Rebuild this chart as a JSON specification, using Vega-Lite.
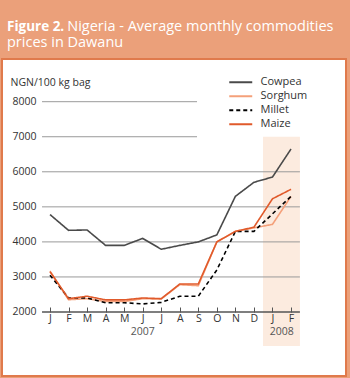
{
  "$schema": "https://vega.github.io/schema/vega-lite/v6.json",
  "autosize": "none",
  "width": 344,
  "height": 317,
  "padding": {"left": 2, "top": 59, "right": 4, "bottom": 2},
  "background": "#EBA07A",
  "view": {"fill": "white", "stroke": "#E07A4C", "strokeWidth": 2},
  "config": {
    "font": "Open Sans",
    "axisX": {"offset": -64, "labelExpr": "substring('JFMAMJJASONDJF', datum.value, datum.value + 1)", "labelOverlap": false, "labelFlush": false, "labelBound": false, "domain": false, "grid": false, "ticks": true, "tickSize": -5, "tickColor": "#555555", "tickWidth": 1, "labelPadding": 6, "labelFontSize": 10.5, "labelColor": "#333333", "labelFont": "Open Sans"},
    "axisY": {"offset": -38, "format": "d", "labelOverlap": false, "labelFlush": false, "labelBound": false, "domain": false, "ticks": false, "grid": false, "labelPadding": 4, "labelFontSize": 10.5, "labelColor": "#333333", "labelFont": "Open Sans", "titleAngle": 0, "titleX": -30, "titleY": 26.5, "titleAlign": "left", "titleBaseline": "alphabetic", "titleFontWeight": "normal", "titleFontSize": 10.5, "titleColor": "#333333", "titleFont": "Open Sans"}
  },
  "title": {
    "text": "Figure 2.",
    "subtitle": ["\u200b\u00a0\u00a0\u00a0\u00a0\u00a0\u00a0\u00a0\u00a0\u00a0\u00a0\u00a0\u00a0\u00a0\u00a0\u00a0\u00a0Nigeria - Average monthly commodities", "prices in Dawanu"],
    "anchor": "start",
    "frame": "group",
    "dx": 5,
    "offset": 8.5,
    "font": "Open Sans",
    "fontSize": 13.5,
    "fontWeight": "bold",
    "color": "white",
    "subtitleFont": "Open Sans",
    "subtitleFontSize": 14.5,
    "subtitleFontWeight": "normal",
    "subtitleColor": "white",
    "subtitlePadding": -13.5,
    "subtitleLineHeight": 15.7,
    "lineHeight": 15.5
  },
  "data": {"values": [
    {"i": 0, "c": "Cowpea", "v": 4780}, {"i": 1, "c": "Cowpea", "v": 4330}, {"i": 2, "c": "Cowpea", "v": 4340}, {"i": 3, "c": "Cowpea", "v": 3900}, {"i": 4, "c": "Cowpea", "v": 3900}, {"i": 5, "c": "Cowpea", "v": 4100}, {"i": 6, "c": "Cowpea", "v": 3790}, {"i": 7, "c": "Cowpea", "v": 3900}, {"i": 8, "c": "Cowpea", "v": 4000}, {"i": 9, "c": "Cowpea", "v": 4200}, {"i": 10, "c": "Cowpea", "v": 5300}, {"i": 11, "c": "Cowpea", "v": 5700}, {"i": 12, "c": "Cowpea", "v": 5850}, {"i": 13, "c": "Cowpea", "v": 6650},
    {"i": 0, "c": "Sorghum", "v": 3170}, {"i": 1, "c": "Sorghum", "v": 2350}, {"i": 2, "c": "Sorghum", "v": 2380}, {"i": 3, "c": "Sorghum", "v": 2300}, {"i": 4, "c": "Sorghum", "v": 2300}, {"i": 5, "c": "Sorghum", "v": 2380}, {"i": 6, "c": "Sorghum", "v": 2370}, {"i": 7, "c": "Sorghum", "v": 2780}, {"i": 8, "c": "Sorghum", "v": 2750}, {"i": 9, "c": "Sorghum", "v": 4000}, {"i": 10, "c": "Sorghum", "v": 4300}, {"i": 11, "c": "Sorghum", "v": 4400}, {"i": 12, "c": "Sorghum", "v": 4500}, {"i": 13, "c": "Sorghum", "v": 5300},
    {"i": 0, "c": "Millet", "v": 3050}, {"i": 1, "c": "Millet", "v": 2400}, {"i": 2, "c": "Millet", "v": 2400}, {"i": 3, "c": "Millet", "v": 2265}, {"i": 4, "c": "Millet", "v": 2265}, {"i": 5, "c": "Millet", "v": 2230}, {"i": 6, "c": "Millet", "v": 2275}, {"i": 7, "c": "Millet", "v": 2450}, {"i": 8, "c": "Millet", "v": 2450}, {"i": 9, "c": "Millet", "v": 3200}, {"i": 10, "c": "Millet", "v": 4300}, {"i": 11, "c": "Millet", "v": 4300}, {"i": 12, "c": "Millet", "v": 4800}, {"i": 13, "c": "Millet", "v": 5300},
    {"i": 0, "c": "Maize", "v": 3150}, {"i": 1, "c": "Maize", "v": 2380}, {"i": 2, "c": "Maize", "v": 2450}, {"i": 3, "c": "Maize", "v": 2345}, {"i": 4, "c": "Maize", "v": 2345}, {"i": 5, "c": "Maize", "v": 2400}, {"i": 6, "c": "Maize", "v": 2380}, {"i": 7, "c": "Maize", "v": 2800}, {"i": 8, "c": "Maize", "v": 2800}, {"i": 9, "c": "Maize", "v": 4000}, {"i": 10, "c": "Maize", "v": 4300}, {"i": 11, "c": "Maize", "v": 4420}, {"i": 12, "c": "Maize", "v": 5230}, {"i": 13, "c": "Maize", "v": 5500}
  ]},
  "layer": [
    {
      "data": {"values": [{}]},
      "mark": {"type": "rect", "color": "#FCEBDF"},
      "encoding": {
        "x": {"datum": 11.49, "type": "quantitative", "scale": {"domain": [-2.589, 15.966], "nice": false, "zero": false}, "axis": {"values": [0,1,2,3,4,5,6,7,8,9,10,11,12,13], "title": null, "zindex": 2}},
        "x2": {"datum": 13.48},
        "y": {"datum": 7000, "type": "quantitative", "scale": {"domain": [174, 9218], "nice": false, "zero": false}, "axis": {"values": [2000,3000,4000,5000,6000,7000,8000], "title": "NGN/100 kg bag", "zindex": 2}},
        "y2": {"datum": 1030}
      }
    },
    {
      "data": {"values": [{"g": 3000}, {"g": 4000}, {"g": 5000}, {"g": 6000}]},
      "mark": {"type": "rule", "color": "#9a9a9a", "strokeWidth": 1},
      "encoding": {
        "x": {"datum": -0.43, "type": "quantitative", "scale": {"domain": [-2.589, 15.966], "nice": false, "zero": false}, "axis": {"values": [0,1,2,3,4,5,6,7,8,9,10,11,12,13], "title": null, "zindex": 2}},
        "x2": {"datum": 13.48},
        "y": {"field": "g", "type": "quantitative", "scale": {"domain": [174, 9218], "nice": false, "zero": false}, "axis": {"values": [2000,3000,4000,5000,6000,7000,8000], "title": "NGN/100 kg bag", "zindex": 2}}
      }
    },
    {
      "data": {"values": [{"g": 7000}, {"g": 8000}]},
      "mark": {"type": "rule", "color": "#9a9a9a", "strokeWidth": 1},
      "encoding": {
        "x": {"datum": -0.43, "type": "quantitative", "scale": {"domain": [-2.589, 15.966], "nice": false, "zero": false}, "axis": {"values": [0,1,2,3,4,5,6,7,8,9,10,11,12,13], "title": null, "zindex": 2}},
        "x2": {"datum": 7.93},
        "y": {"field": "g", "type": "quantitative", "scale": {"domain": [174, 9218], "nice": false, "zero": false}, "axis": {"values": [2000,3000,4000,5000,6000,7000,8000], "title": "NGN/100 kg bag", "zindex": 2}}
      }
    },
    {
      "data": {"values": [{}]},
      "mark": {"type": "rule", "color": "#555555", "strokeWidth": 1.5},
      "encoding": {
        "x": {"datum": -0.43, "type": "quantitative", "scale": {"domain": [-2.589, 15.966], "nice": false, "zero": false}, "axis": {"values": [0,1,2,3,4,5,6,7,8,9,10,11,12,13], "title": null, "zindex": 2}},
        "x2": {"datum": 13.48},
        "y": {"datum": 2000, "type": "quantitative", "scale": {"domain": [174, 9218], "nice": false, "zero": false}, "axis": {"values": [2000,3000,4000,5000,6000,7000,8000], "title": "NGN/100 kg bag", "zindex": 2}}
      }
    },
    {
      "mark": {"type": "line", "strokeWidth": 1.6},
      "encoding": {
        "x": {"field": "i", "type": "quantitative", "scale": {"domain": [-2.589, 15.966], "nice": false, "zero": false}, "axis": {"values": [0,1,2,3,4,5,6,7,8,9,10,11,12,13], "title": null, "zindex": 2}},
        "y": {"field": "v", "type": "quantitative", "scale": {"domain": [174, 9218], "nice": false, "zero": false}, "axis": {"values": [2000,3000,4000,5000,6000,7000,8000], "title": "NGN/100 kg bag", "zindex": 2}},
        "color": {"field": "c", "type": "nominal", "scale": {"domain": ["Cowpea", "Sorghum", "Millet", "Maize"], "range": ["#4a4a4a", "#F4A07A", "#000000", "#E05A2B"]},
          "legend": {"orient": "none", "legendX": 231.75, "legendY": 16.25, "title": null, "symbolType": "M-2,0L2,0", "symbolSize": 132, "symbolStrokeWidth": 1.8, "labelFontSize": 11, "labelColor": "#333333", "labelFont": "Open Sans", "labelOffset": 12.75, "rowPadding": 2}},
        "strokeDash": {"field": "c", "type": "nominal", "scale": {"domain": ["Cowpea", "Sorghum", "Millet", "Maize"], "range": [[1, 0], [1, 0], [4, 3], [1, 0]]},
          "legend": {"orient": "none", "legendX": 231.75, "legendY": 16.25, "title": null, "symbolType": "M-2,0L2,0", "symbolSize": 132, "symbolStrokeWidth": 1.8, "labelFontSize": 11, "labelColor": "#333333", "labelFont": "Open Sans", "labelOffset": 12.75, "rowPadding": 2}}
      }
    },
    {
      "data": {"values": [{"year": "2007", "i": 5}, {"year": "2008", "i": 12.5}]},
      "mark": {"type": "text", "fontSize": 10.5, "color": "#555555", "baseline": "alphabetic", "align": "center"},
      "encoding": {
        "x": {"field": "i", "type": "quantitative", "scale": {"domain": [-2.589, 15.966], "nice": false, "zero": false}, "axis": {"values": [0,1,2,3,4,5,6,7,8,9,10,11,12,13], "title": null, "zindex": 2}},
        "y": {"datum": 1344, "type": "quantitative", "scale": {"domain": [174, 9218], "nice": false, "zero": false}, "axis": {"values": [2000,3000,4000,5000,6000,7000,8000], "title": "NGN/100 kg bag", "zindex": 2}},
        "text": {"field": "year"}
      }
    }
  ]
}
